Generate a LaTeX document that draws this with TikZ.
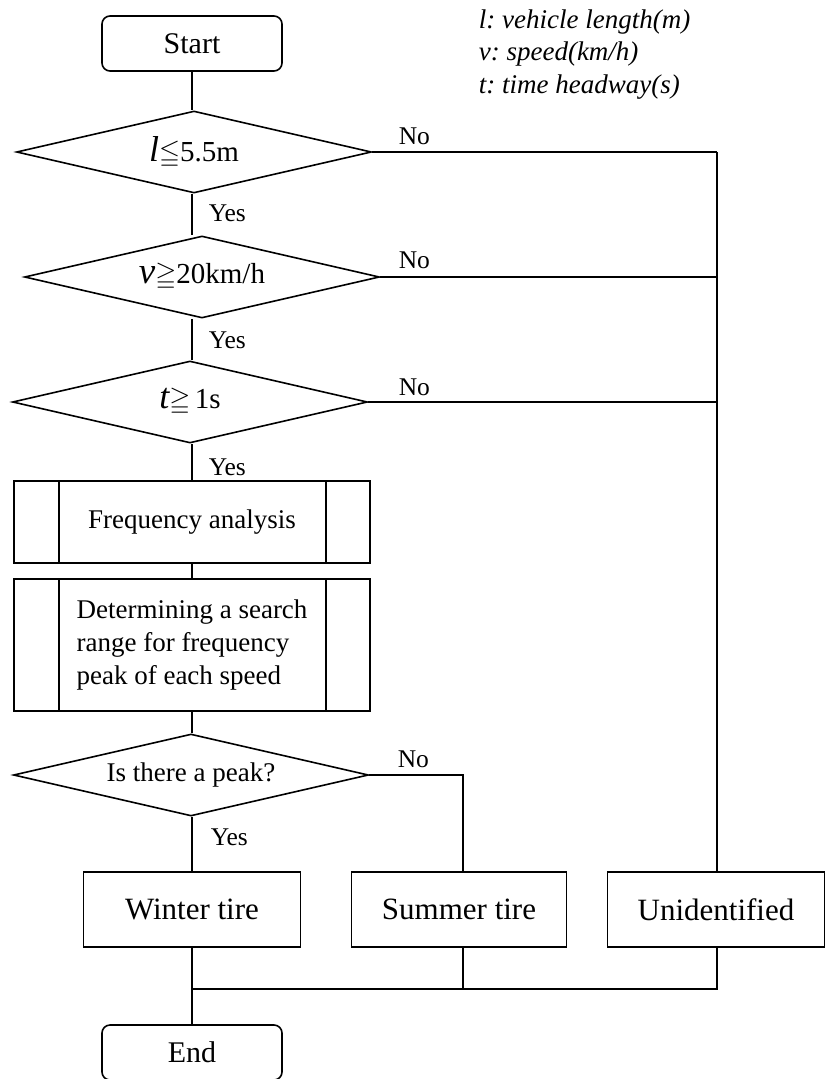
\documentclass[tikz,border=0pt]{standalone}
\usepackage{fontspec}
\usepackage{amssymb}
\setmainfont{Liberation Serif}
\usetikzlibrary{shapes.geometric,calc}
\newcommand{\fsz}[2]{\fontsize{#1}{#2}\selectfont}
\frenchspacing
\begin{document}
\begin{tikzpicture}[x=1pt,y=-1pt,line width=1.6pt,
  term/.style={draw,rounded corners=8pt,minimum width=180pt,minimum height=55pt,inner sep=0pt,font=\fsz{30}{36}},
  dec/.style={draw,diamond,aspect=4.33,minimum width=355pt,minimum height=82pt,inner sep=0pt},
  proc/.style={draw,minimum width=356pt,inner sep=0pt,align=left,font=\fsz{27}{33},
    path picture={\draw[line width=1.6pt]
      ([xshift=45pt]path picture bounding box.north west) -- ([xshift=45pt]path picture bounding box.south west)
      ([xshift=-44pt]path picture bounding box.north east) -- ([xshift=-44pt]path picture bounding box.south east);}},
  outbox/.style={draw,minimum width=217pt,minimum height=75pt,inner sep=0pt,font=\fsz{31}{36}},
  lbl/.style={font=\fsz{25.5}{30},inner sep=0pt},
  leg/.style={font=\fsz{27}{32}\itshape,inner sep=0pt,anchor=west}]
\useasboundingbox (0,0) rectangle (826,1079);

% legend
\node[leg] (leg1) at (478,22) {l: vehicle length(m)};
\node[leg] (leg2) at (478,54) {v: speed(km/h)};
\node[leg] (leg3) at (478,87) {t: time headway(s)};

% main nodes
\node[term] (start) at (192,43.5) {Start};
\node[dec] (d1) at (194,152) {{\fsz{36}{40}\itshape l}{\fsz{27}{30}$\leqq$}{\fsz{29}{34}5.5m}};
\node[dec] (d2) at (202,277) {{\fsz{37}{40}\itshape v}{\fsz{27}{30}$\geqq$}{\fsz{29}{34}20km/h}};
\node[dec] (d3) at (190,402) {{\fsz{36}{40}\itshape t}{\fsz{27}{30}$\geqq$\,}{\fsz{29}{34}1s}};
\node[proc,minimum height=82pt] (fa) at (192,522) {Frequency analysis};
\node[proc,minimum height=132pt] (dr) at (192,645) {Determining a search\\range for frequency\\peak of each speed};
\node[dec,font=\fsz{27}{32}] (d4) at (191,775) {Is there a peak?};
\node[outbox] (win) at (192,909.5) {Winter tire};
\node[outbox,minimum width=215pt] (sum) at (459,909.5) {Summer tire};
\node[outbox] (uni) at (716,909.5) {Unidentified};
\node[term] (end) at (192,1052.5) {End};

% helper coordinates
\coordinate (rx) at (717,152);
\coordinate (sx) at (463,775);
\coordinate (m) at (192,989);

% main vertical flow
\draw (start.south) -- (start.south |- d1.north);
\draw (start.south |- d1.south) -- (start.south |- d2.north);
\draw (start.south |- d2.south) -- (start.south |- d3.north);
\draw (start.south |- d3.south) -- (fa.north);
\draw (fa.south) -- (dr.north);
\draw (dr.south) -- (start.south |- d4.north);
\draw (start.south |- d4.south) -- (win.north);

% No branches
\draw (d1.east) -- (d1.east -| rx);
\draw (d2.east) -- (d2.east -| rx);
\draw (d3.east) -- (d3.east -| rx);
\draw (rx) -- (rx |- uni.north);
\draw (d4.east) -- (sx) -- (sx |- sum.north);

% merge to End
\draw (win.south) -- (end.north);
\draw (sx |- sum.south) -- (sx |- m);
\draw (rx |- uni.south) -- (rx |- m) -- (m);

% labels
\node[lbl,anchor=base west] (no1) at (398,144) {No};
\node[lbl,anchor=base west] (no2) at (398,268) {No};
\node[lbl,anchor=base west] (no3) at (398,395) {No};
\node[lbl,anchor=base west] (no4) at (397,767) {No};
\node[lbl,anchor=west] (yes1) at (208,213) {Yes};
\node[lbl,anchor=west] (yes2) at (208,340) {Yes};
\node[lbl,anchor=west] (yes3) at (208,467) {Yes};
\node[lbl,anchor=west] (yes4) at (210,837) {Yes};
\end{tikzpicture}
\end{document}
